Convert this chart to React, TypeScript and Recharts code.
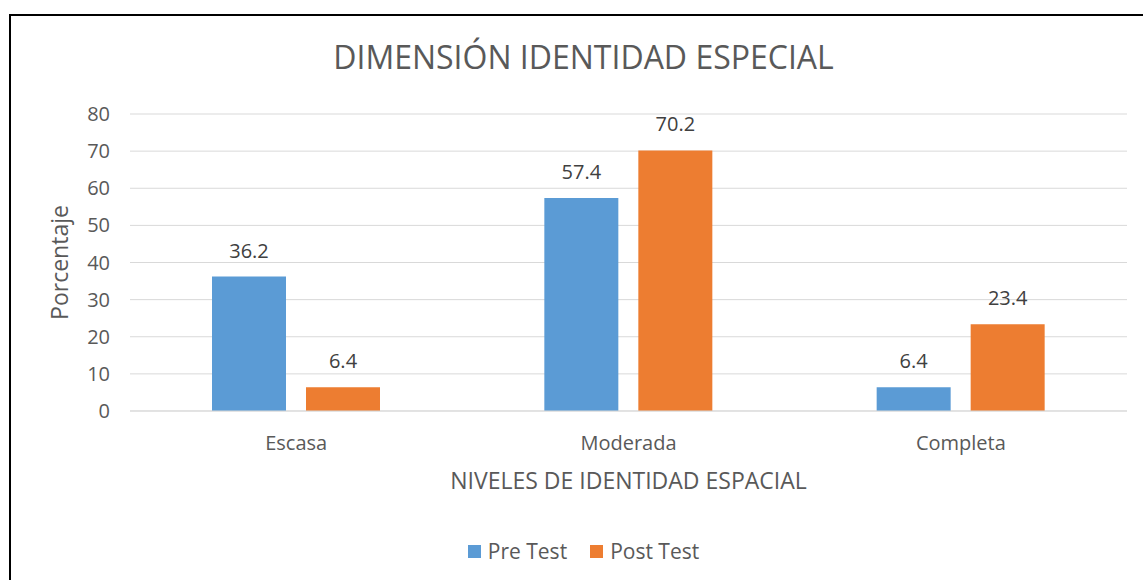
import React from 'react';
import { BarChart, Bar, XAxis, YAxis, CartesianGrid, LabelList, Label } from 'recharts';

const categories = ['Escasa', 'Moderada', 'Completa'];
const preTest = [36.2, 57.4, 6.4];
const postTest = [6.4, 70.2, 23.4];
const yTicks = [0, 10, 20, 30, 40, 50, 60, 70, 80];

const data = categories.map((c, i) => ({ name: c, pre: preTest[i], post: postTest[i] }));

const FONT = '"Open Sans", sans-serif';
const TXT = '#595959';
const BLUE = '#5B9BD5';
const ORANGE = '#ED7D31';

export default function App() {
  return (
    <div
      style={{
        position: 'absolute',
        left: 9,
        top: 14,
        width: 1134,
        height: 566,
        borderLeft: '2px solid #000',
        borderTop: '2px solid #000',
        background: '#fff',
        fontFamily: FONT,
      }}
    >
      <div
        style={{
          position: 'absolute',
          left: 0,
          width: 1145,
          top: 21,
          textAlign: 'center',
          fontSize: 32,
          color: TXT,
          lineHeight: '40px',
        }}
      >
        DIMENSIÓN IDENTIDAD ESPECIAL
      </div>
      <BarChart
        width={1132}
        height={564}
        data={data}
        margin={{ top: 98, right: 16, left: 59, bottom: 129 }}
        barSize={74}
        barGap={20}
      >
        <CartesianGrid vertical={false} stroke="#D9D9D9" strokeWidth={1} />
        <XAxis
          dataKey="name"
          height={40}
          axisLine={{ stroke: '#D9D9D9' }}
          tickLine={false}
          tick={{ fill: TXT, fontSize: 20, fontFamily: FONT }}
          tickMargin={19}
        >
          <Label
            value="NIVELES DE IDENTIDAD ESPACIAL"
            position="bottom"
            offset={22}
            style={{ fill: TXT, fontSize: 23, fontFamily: FONT }}
          />
        </XAxis>
        <YAxis
          width={60}
          domain={[0, 80]}
          ticks={yTicks}
          axisLine={false}
          tickLine={false}
          tick={{ fill: TXT, fontSize: 20, fontFamily: FONT }}
          tickMargin={14}
        >
          <Label
            value="Porcentaje"
            angle={-90}
            position="insideLeft"
            offset={-10}
            style={{ fill: TXT, fontSize: 23, fontFamily: FONT, textAnchor: 'middle' }}
          />
        </YAxis>
        <Bar dataKey="pre" name="Pre Test" fill={BLUE} isAnimationActive={false}>
          <LabelList dataKey="pre" position="top" offset={19} style={{ fill: '#404040', fontSize: 20, fontFamily: FONT }} />
        </Bar>
        <Bar dataKey="post" name="Post Test" fill={ORANGE} isAnimationActive={false}>
          <LabelList dataKey="post" position="top" offset={19} style={{ fill: '#404040', fontSize: 20, fontFamily: FONT }} />
        </Bar>
      </BarChart>
      <div
        style={{
          position: 'absolute',
          left: 0,
          width: 1145,
          top: 522,
          display: 'flex',
          justifyContent: 'center',
          alignItems: 'center',
          fontSize: 21,
          color: TXT,
          lineHeight: '26px',
        }}
      >
        <span style={{ display: 'inline-block', width: 13, height: 13, background: BLUE, marginRight: 7 }} />
        <span style={{ marginRight: 23 }}>Pre Test</span>
        <span style={{ display: 'inline-block', width: 13, height: 13, background: ORANGE, marginRight: 7 }} />
        <span>Post Test</span>
      </div>
    </div>
  );
}
